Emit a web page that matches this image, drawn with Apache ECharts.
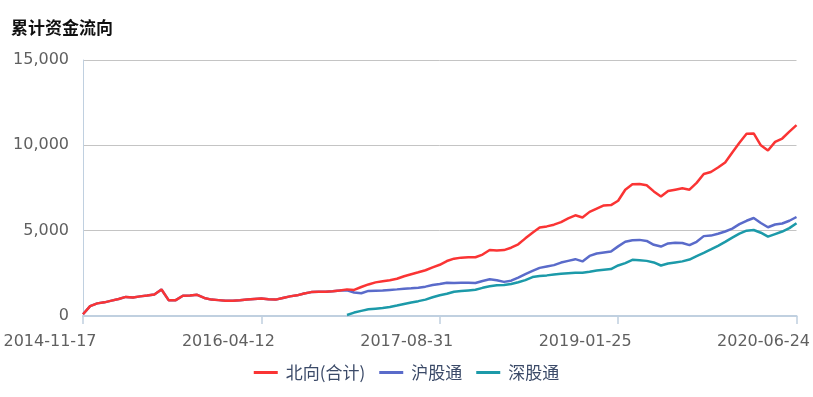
<!DOCTYPE html>
<html>
<head>
<meta charset="utf-8">
<script src="https://cdn.jsdelivr.net/npm/echarts@6/dist/echarts.min.js"></script>
<style>
  html, body { margin: 0; padding: 0; background: #fff; }
  #main { width: 813px; height: 397px; }
</style>
</head>
<body>
<div id="main"></div>
<script>
// 日期（每隔约两周取一个点）
const dates = [
  '2014-11-17','2014-12-05','2014-12-24','2015-01-14','2015-02-03','2015-02-27','2015-03-19','2015-04-09','2015-04-30','2015-05-20',
  '2015-06-09','2015-06-30','2015-07-20','2015-08-07','2015-08-27','2015-09-17','2015-10-12','2015-10-30','2015-11-19','2015-12-09',
  '2015-12-30','2016-01-20','2016-02-16','2016-03-04','2016-03-23','2016-04-12','2016-05-03','2016-05-23','2016-06-13','2016-07-04',
  '2016-07-22','2016-08-11','2016-08-31','2016-09-21','2016-10-17','2016-11-04','2016-11-24','2016-12-14','2017-01-04','2017-01-24',
  '2017-02-20','2017-03-10','2017-03-30','2017-04-21','2017-05-12','2017-06-02','2017-06-22','2017-07-12','2017-07-31','2017-08-16',
  '2017-08-31','2017-09-20','2017-10-17','2017-11-06','2017-11-24','2017-12-14','2018-01-04','2018-01-24','2018-02-13','2018-03-08',
  '2018-03-28','2018-04-20','2018-05-10','2018-05-31','2018-06-20','2018-07-11','2018-07-31','2018-08-20','2018-09-07','2018-09-28',
  '2018-10-23','2018-11-12','2018-11-30','2018-12-20','2019-01-10','2019-01-25','2019-02-20','2019-03-12','2019-04-01','2019-04-23',
  '2019-05-14','2019-06-04','2019-06-25','2019-07-15','2019-08-02','2019-08-22','2019-09-11','2019-10-09','2019-10-29','2019-11-18',
  '2019-12-06','2019-12-27','2020-01-16','2020-02-11','2020-03-02','2020-03-20','2020-04-13','2020-05-04','2020-05-22','2020-06-10',
  '2020-06-24'
]

const tickLabels = ['2014-11-17', '2016-04-12', '2017-08-31', '2019-01-25', '2020-06-24']

// 北向(合计)
const northTotal = [
  100, 580, 740, 800, 900, 1000, 1120, 1080, 1150, 1200,
  1260, 1550, 930, 930, 1190, 1200, 1240, 1060, 960, 930,
  900, 900, 920, 960, 1000, 1030, 980, 960, 1060, 1150,
  1210, 1320, 1400, 1420, 1420, 1450, 1500, 1560, 1530, 1700,
  1850, 1970, 2040, 2100, 2180, 2330, 2450, 2560, 2680, 2850,
  3000, 3220, 3360, 3420, 3440, 3440, 3600, 3870, 3840, 3860,
  4000, 4200, 4550, 4880, 5180, 5250, 5350, 5500, 5720, 5900,
  5770, 6100, 6290, 6480, 6500, 6750, 7400, 7720, 7740, 7660,
  7300, 7000, 7320, 7400, 7480, 7400, 7800, 8320, 8440, 8700,
  9000, 9580, 10150, 10680, 10700, 10000, 9700, 10200, 10400, 10800,
  11180
]

// 沪股通
const shConnect = [
  100, 580, 740, 800, 900, 1000, 1120, 1080, 1150, 1200,
  1260, 1550, 930, 930, 1190, 1200, 1240, 1060, 960, 930,
  900, 900, 920, 960, 1000, 1030, 980, 960, 1060, 1150,
  1210, 1320, 1400, 1420, 1420, 1450, 1500, 1500, 1380, 1330,
  1470, 1480, 1490, 1530, 1560, 1600, 1620, 1660, 1720, 1820,
  1880, 1950, 1930, 1950, 1950, 1930, 2050, 2150, 2100, 2000,
  2070, 2250, 2450, 2640, 2820, 2900, 2980, 3130, 3230, 3330,
  3200, 3520, 3660, 3720, 3780, 4080, 4350, 4440, 4460, 4400,
  4170, 4070, 4250, 4290, 4280, 4150, 4350, 4680, 4710, 4820,
  4950, 5120, 5380, 5580, 5740, 5450, 5200, 5360, 5420, 5580,
  5800
]

// 深股通（2016-12 开通）
const szConnect = [
  null, null, null, null, null, null, null, null, null, null,
  null, null, null, null, null, null, null, null, null, null,
  null, null, null, null, null, null, null, null, null, null,
  null, null, null, null, null, null, null, 60, 200, 300,
  390, 430, 470, 530, 610, 700, 790, 870, 960, 1100,
  1220, 1300, 1420, 1460, 1500, 1540, 1650, 1740, 1800, 1820,
  1880, 1980, 2100, 2280, 2340, 2380, 2430, 2470, 2510, 2530,
  2530, 2590, 2660, 2710, 2750, 2960, 3100, 3290, 3260, 3230,
  3140, 2960, 3080, 3140, 3200, 3310, 3510, 3700, 3900, 4110,
  4340, 4590, 4830, 5000, 5040, 4880, 4650, 4800, 4950, 5150,
  5440
]

const numFont = 'DejaVu Sans'
const cjkFont = 'Noto Sans CJK SC'

const option = {
  animation: false,
  title: {
    text: '累计资金流向',
    left: 6,
    top: 14,
    textStyle: {
      fontFamily: cjkFont,
      fontSize: 17,
      fontWeight: 'bold',
      color: '#111'
    }
  },
  legend: {
    left: 'center',
    top: 359,
    icon: 'rect',
    itemWidth: 24,
    itemHeight: 3,
    itemGap: 14,
    textStyle: {
      fontFamily: cjkFont,
      fontSize: 17,
      color: '#3b4a68',
      padding: [0, 0, 0, 3]
    },
    data: ['北向(合计)', '沪股通', '深股通']
  },
  grid: {
    left: 83,
    right: 16,
    top: 60,
    bottom: 81
  },
  xAxis: {
    type: 'category',
    boundaryGap: false,
    data: dates,
    axisLine: {
      lineStyle: { color: '#c0d0e0', width: 2 }
    },
    axisTick: {
      show: true,
      length: 8,
      interval: (idx, val) => tickLabels.includes(val),
      lineStyle: { color: '#c0d0e0', width: 1.5 }
    },
    axisLabel: {
      interval: (idx, val) => tickLabels.includes(val),
      showMinLabel: true,
      showMaxLabel: true,
      margin: 18,
      padding: [0, 66, 0, 0],
      fontFamily: numFont,
      fontSize: 16,
      color: '#606060'
    }
  },
  yAxis: {
    type: 'value',
    min: 0,
    max: 15000,
    interval: 5000,
    axisLine: {
      show: true,
      lineStyle: { color: '#c0d0e0', width: 1 }
    },
    axisTick: { show: false },
    splitLine: {
      lineStyle: { color: '#c4c4c4', width: 1 }
    },
    axisLabel: {
      margin: 14,
      fontFamily: numFont,
      fontSize: 16,
      color: '#606060',
      formatter: v => v.toLocaleString('en-US')
    }
  },
  series: [
    {
      name: '北向(合计)',
      type: 'line',
      data: northTotal,
      symbol: 'none',
      z: 4,
      lineStyle: { width: 2.5, color: '#fa3434' },
      itemStyle: { color: '#fa3434' }
    },
    {
      name: '沪股通',
      type: 'line',
      data: shConnect,
      symbol: 'none',
      z: 3,
      lineStyle: { width: 2.5, color: '#5a6bca' },
      itemStyle: { color: '#5a6bca' }
    },
    {
      name: '深股通',
      type: 'line',
      data: szConnect,
      symbol: 'none',
      z: 2,
      lineStyle: { width: 2.5, color: '#1c9aa9' },
      itemStyle: { color: '#1c9aa9' }
    }
  ]
}

let chartDom = document.getElementById('main')
let chart = echarts.init(chartDom)
chart.setOption(option)
</script>
</body>
</html>
